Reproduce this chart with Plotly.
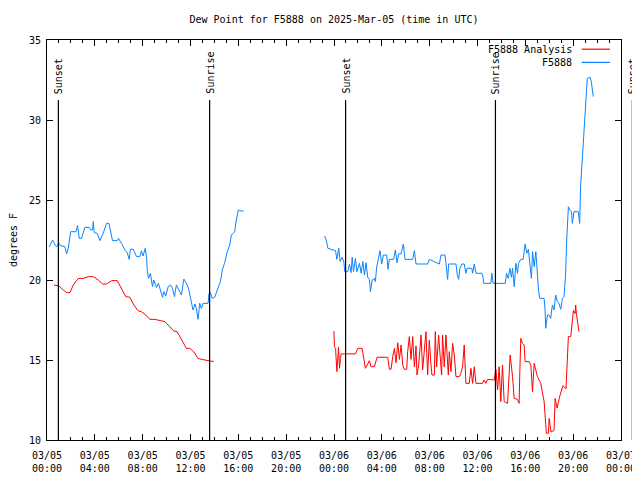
import plotly.graph_objects as go
import pandas as pd

# ---------------- data (hours after 2025-03-05 00:00 UTC, dew point in F) -------------
START = "2025-03-05 00:00"
SPAN_HOURS = 48

blue1_h = [0.19, 0.47, 0.67, 0.81, 1.0, 1.14, 1.5, 1.64, 1.78, 1.98, 2.42, 2.56, 2.7, 2.89, 3.17, 3.53,
           3.65, 3.81, 3.87, 3.95, 4.2, 4.42, 4.7, 4.98, 5.18, 5.31, 5.48, 5.87, 5.98, 6.23, 6.51, 6.71,
           6.87, 6.98, 7.21, 7.49, 7.76, 7.9, 8.04, 8.21, 8.32, 8.4, 8.49, 8.65, 8.82, 8.93, 9.15, 9.32,
           9.49, 9.66, 9.77, 9.93, 10.13, 10.32, 10.49, 10.66, 10.82, 11.05, 11.24, 11.44, 11.66, 11.83,
           11.99, 12.21, 12.38, 12.49, 12.63, 12.77, 12.91, 13.05, 13.47, 13.55, 13.66, 13.83, 14.02,
           14.3, 14.5, 14.66, 14.86, 15.05, 15.28, 15.42, 15.55, 15.69, 15.83, 16.0, 16.11, 16.45]
blue1_v = [22.08, 22.5, 22.19, 22.08, 22.29, 22.15, 22.08, 21.63, 21.98, 23.02, 23.02, 23.4, 22.6, 22.6,
           23.29, 23.29, 23.13, 23.13, 23.65, 22.96, 22.92, 22.46, 22.92, 23.54, 23.54, 23.13, 22.46,
           22.46, 22.6, 22.29, 21.88, 21.71, 21.29, 21.92, 21.92, 21.46, 21.46, 21.83, 21.5, 21.98,
           21.46, 20.52, 20.1, 20.42, 19.58, 20.0, 19.54, 19.79, 19.38, 18.92, 19.27, 19.0, 19.58,
           19.69, 19.48, 18.96, 19.69, 19.38, 19.06, 20.06, 19.79, 19.48, 18.85, 18.13, 18.5, 18.23,
           17.54, 18.54, 18.23, 18.54, 18.54, 19.17, 19.21, 18.85, 18.92, 19.48, 19.9, 20.63, 21.08,
           21.71, 22.19, 22.81, 22.92, 23.02, 23.75, 24.38, 24.33, 24.3]

blue2_h = [23.21, 23.35, 23.49, 23.82, 24.13, 24.24, 24.4, 24.51, 24.68, 24.82,
           24.9, 25.15, 25.29, 25.43, 25.52, 25.63, 25.79, 25.91, 26.13, 26.27,
           26.41, 26.55, 26.68, 26.82, 26.96, 27.05, 27.19, 27.38, 27.46, 27.57,
           27.74, 27.85, 27.99, 28.13, 28.41, 28.52, 28.63, 28.99, 29.13, 29.27,
           29.41, 29.61, 29.8, 29.94, 30.58, 30.72, 30.86, 31.83, 31.97, 32.81,
           32.95, 33.28, 33.36, 33.45, 33.5, 33.59, 34.2, 34.31, 34.42, 34.53,
           34.7, 34.89, 35.03, 35.12, 35.53, 35.59, 35.73, 35.87, 36.37, 36.48,
           36.51, 37.12, 37.2, 37.31, 38.32, 38.43, 38.57, 38.71, 38.84, 38.93,
           39.07, 39.21, 39.34, 39.43, 39.62, 39.82, 39.98, 40.12, 40.26, 40.37,
           40.51, 40.6, 40.74, 40.88, 41.01, 41.1, 41.21, 41.57, 41.65, 41.71,
           41.85, 41.98, 42.12, 42.26, 42.4, 42.54, 42.68, 42.82, 42.96, 43.1,
           43.24, 43.37, 43.46, 43.6, 43.71, 43.87, 43.93, 44.07, 44.43, 44.54,
           44.63, 44.77, 44.9, 45.04, 45.18, 45.41, 45.52, 45.68]
blue2_v = [22.75, 22.5, 21.98, 21.88, 21.83, 21.29, 21.98, 21.15, 21.42, 21.15,
           20.52, 20.52, 20.98, 20.46, 21.42, 20.52, 21.35, 20.52, 21.04, 20.42,
           21.15, 20.31, 21.08, 20.17, 20.04, 19.27, 20.0, 20.1, 19.9, 20.83,
           21.46, 21.83, 21.0, 21.56, 21.56, 20.67, 21.29, 21.29, 21.88, 21.08,
           21.63, 21.63, 22.25, 21.29, 21.29, 21.83, 21.0, 21.0, 21.29, 21.0,
           21.56, 21.56, 21.08, 20.46, 20.04, 21.0, 21.0, 20.31, 20.04, 20.73,
           21.0, 21.0, 20.42, 20.73, 20.73, 20.42, 21.0, 20.42, 20.42, 20.1,
           19.79, 19.79, 20.42, 19.79, 19.79, 20.42, 20.1, 20.73, 20.17, 20.73,
           19.58, 21.04, 20.42, 21.04, 21.29, 21.29, 22.25, 21.67, 21.92, 21.04,
           20.1, 21.77, 20.83, 21.77, 20.0, 19.38, 18.85, 18.85, 18.13, 16.98,
           17.81, 17.81, 17.6, 18.44, 18.13, 19.06, 18.65, 18.54, 18.17, 18.85,
           18.96, 20.42, 22.5, 24.58, 24.38, 24.27, 23.54, 24.27, 24.27, 23.54,
           25.94, 27.71, 29.17, 31.15, 32.6, 32.67, 32.4, 31.46]

red1_h = [0.58, 1.0, 1.36, 1.64, 1.92, 2.2, 2.62, 3.03, 3.45, 3.87, 4.29, 4.65, 4.98, 5.4, 5.87, 6.23,
          6.59, 6.93, 7.26, 7.62, 7.9, 8.26, 8.6, 9.02, 9.43, 9.85, 10.27, 10.6, 10.88, 11.24, 11.66,
          11.94, 12.27, 12.63, 12.91, 13.94]
red1_v = [19.69, 19.63, 19.38, 19.21, 19.21, 19.69, 20.1, 20.1, 20.21, 20.21, 20.0, 19.75, 19.75, 19.96,
          19.96, 19.48, 18.96, 18.92, 18.44, 18.08, 18.02, 17.81, 17.54, 17.54, 17.46, 17.4, 17.08,
          16.81, 16.77, 16.29, 15.73, 15.73, 15.52, 15.1, 15.04, 14.9]

red2_h = [23.99, 24.04, 24.13, 24.24, 24.38, 24.46, 24.54, 24.6, 25.79, 25.99,
          26.35, 26.49, 26.63, 26.82, 26.96, 27.1, 27.38, 27.6, 28.49, 28.63,
          28.77, 28.91, 29.05, 29.19, 29.33, 29.47, 29.61, 29.75, 29.88, 30.08,
          30.16, 30.3, 30.44, 30.58, 30.72, 30.86, 30.94, 31.08, 31.28, 31.41,
          31.55, 31.69, 31.83, 31.97, 32.11, 32.19, 32.39, 32.47, 32.58, 32.75,
          32.86, 33.0, 33.08, 33.22, 33.36, 33.56, 33.64, 33.78, 33.92, 34.06,
          34.2, 34.48, 34.61, 34.75, 34.89, 35.03, 35.31, 35.45, 35.59, 35.73,
          35.87, 36.42, 36.56, 36.7, 36.84, 37.4, 37.54, 37.68, 37.81, 37.95,
          38.09, 38.23, 38.51, 38.65, 38.73, 38.93, 39.07, 39.34, 39.48, 39.54,
          39.62, 39.76, 39.9, 39.98, 40.32, 40.46, 40.6, 40.74, 40.88, 41.01,
          41.15, 41.29, 41.57, 41.65, 41.76, 41.93, 41.99, 42.15, 42.4, 42.49,
          42.65, 42.9, 43.15, 43.4, 43.53, 43.6, 43.8, 43.93, 44.02, 44.16,
          44.21, 44.27, 44.35, 44.43, 44.49]
red2_v = [16.81, 15.83, 15.73, 14.27, 15.79, 14.48, 15.1, 15.38, 15.38, 15.73,
          15.73, 15.0, 14.48, 14.75, 14.96, 14.58, 14.58, 15.17, 15.17, 14.42,
          14.42, 15.21, 15.73, 14.83, 16.08, 15.04, 15.94, 14.69, 14.42, 14.42,
          15.52, 16.46, 15.04, 16.46, 14.58, 15.88, 14.06, 14.69, 16.56, 14.38,
          15.83, 16.77, 14.06, 16.25, 14.69, 14.06, 14.06, 16.77, 14.58, 16.56,
          15.42, 14.06, 16.56, 14.58, 16.56, 14.06, 15.52, 14.27, 16.04, 15.31,
          13.96, 13.96, 14.17, 14.58, 15.94, 13.54, 13.54, 14.48, 13.54, 14.58,
          13.54, 13.54, 13.75, 13.54, 13.79, 13.75, 14.42, 13.13, 14.58, 12.4,
          14.69, 12.4, 12.29, 13.85, 15.31, 13.96, 12.6, 12.54, 12.29, 14.27,
          16.35, 16.04, 15.94, 14.9, 14.9, 14.69, 13.02, 14.79, 14.27, 13.96,
          13.75, 13.54, 12.4, 11.46, 10.42, 10.42, 11.35, 10.5, 10.6, 12.6,
          12.0, 12.8, 13.4, 13.2, 16.2, 16.46, 16.46, 17.5, 18.1, 17.9,
          18.44, 17.9, 17.4, 16.9, 16.77]

event_names = ["Sunset", "Sunrise", "Sunset", "Sunrise", "Sunset"]
event_hours = [0.95, 13.6, 24.97, 37.5, 48.95]

series_names = ["F5888 Analysis", "F5888"]
series_colors = ["#ff0000", "#0a84ff"]

# ---------------- helpers -------------
t0 = pd.Timestamp(START)


def to_times(hours):
    return [(t0 + pd.Timedelta(hours=h)).strftime("%Y-%m-%d %H:%M:%S") for h in hours]


def joined(segments):
    xs, ys = [], []
    for hrs, vals in segments:
        if xs:
            xs.append(None)
            ys.append(None)
        xs += to_times(hrs)
        ys += list(vals)
    return xs, ys


FONT = "DejaVu Sans Mono"
PAGE_OFFSET = 8  # default body margin of the html page

fig = go.Figure()

rx, ry = joined([(red1_h, red1_v), (red2_h, red2_v)])
bx, by = joined([(blue1_h, blue1_v), (blue2_h, blue2_v)])
fig.add_trace(go.Scatter(x=rx, y=ry, mode="lines", name=series_names[0],
                         line=dict(color=series_colors[0], width=1), connectgaps=False,
                         showlegend=False))
fig.add_trace(go.Scatter(x=bx, y=by, mode="lines", name=series_names[1],
                         line=dict(color=series_colors[1], width=1), connectgaps=False,
                         showlegend=False))

# sunrise / sunset markers
for name, h in zip(event_names, event_hours):
    xp = h / SPAN_HOURS
    fig.add_shape(type="line", xref="paper", yref="y", x0=xp, x1=xp, y0=10, y1=31.25,
                  line=dict(color="black", width=1.2))
    fig.add_annotation(xref="paper", yref="y", x=xp, y=31.5, text=name, showarrow=False,
                       textangle=-90, xanchor="center", yanchor="bottom",
                       font=dict(family=FONT, size=10, color="black"))

# manual legend (text left of sample line, as in gnuplot)
legend_rows = [0.977, 0.944]
for name, color, yp in zip(series_names, series_colors, legend_rows):
    fig.add_annotation(xref="paper", yref="paper", x=0.918, y=yp, text=name, showarrow=False,
                       xanchor="right", yanchor="middle",
                       font=dict(family=FONT, size=10, color="black"))
    fig.add_shape(type="line", xref="paper", yref="paper", x0=0.9315, x1=0.9808, y0=yp, y1=yp,
                  line=dict(color=color, width=1.2))

fig.update_layout(
    width=640, height=480, autosize=False,
    paper_bgcolor="white", plot_bgcolor="white",
    margin=dict(l=47 - PAGE_OFFSET, r=19 + PAGE_OFFSET, t=40 - PAGE_OFFSET, b=40 + PAGE_OFFSET),
    font=dict(family=FONT, size=10, color="black"),
    title=dict(text="Dew Point for F5888 on 2025-Mar-05 (time in UTC)", x=0.5, xref="paper",
               y=1 - (19 - PAGE_OFFSET) / 480, yref="container", xanchor="center", yanchor="middle",
               font=dict(family=FONT, size=10, color="black")),
    showlegend=False,
)
fig.update_xaxes(
    type="date", automargin=False,
    range=to_times([0, SPAN_HOURS]),
    tick0=to_times([0])[0], dtick=4 * 3600000, tickformat="%m/%d<br>%H:%M",
    ticks="inside", ticklen=6, tickcolor="black", ticklabelstandoff=6,
    minor=dict(dtick=3600000, tick0=to_times([0])[0], ticks="inside", ticklen=3,
               tickcolor="black", showgrid=False),
    showline=True, linecolor="black", linewidth=1, mirror="allticks",
    showgrid=False, zeroline=False,
    tickfont=dict(family=FONT, size=10, color="black"),
)
fig.update_yaxes(
    automargin=False,
    range=[10, 35], tick0=10, dtick=5,
    ticks="inside", ticklen=6, tickcolor="black", ticklabelstandoff=3,
    showline=True, linecolor="black", linewidth=1, mirror="allticks",
    showgrid=False, zeroline=False,
    tickfont=dict(family=FONT, size=10, color="black"),
    title=dict(text="degrees F", standoff=12, font=dict(family=FONT, size=10, color="black")),
)

fig.write_html("out.html")
